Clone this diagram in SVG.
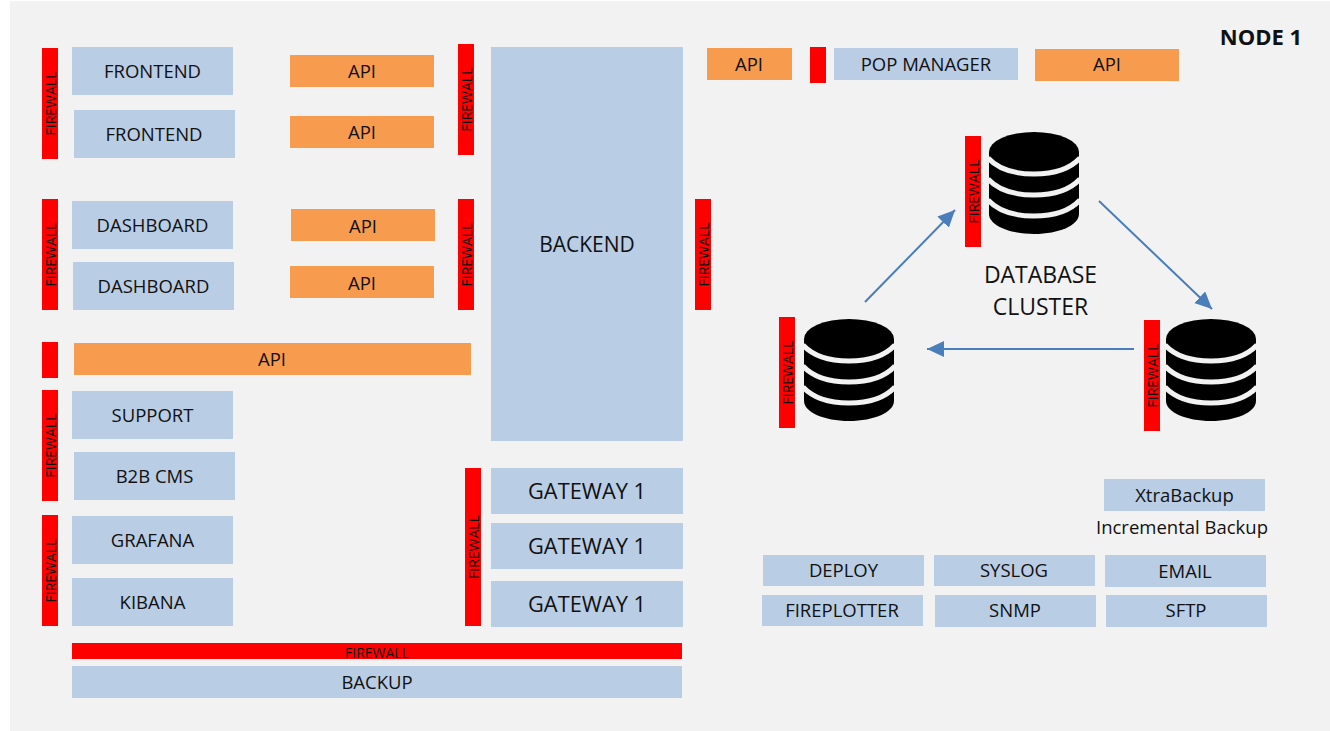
<svg xmlns="http://www.w3.org/2000/svg" width="1330" height="731" viewBox="0 0 1330 731">
<style>
text{font-family:"Open Sans","Noto Sans","Liberation Sans",sans-serif;fill:#111;text-anchor:middle}
.b{fill:#b9cde5}.o{fill:#f79646;fill-opacity:.95}.r{fill:#f00}
.t{font-size:18.5px}.g{font-size:21px}.w{font-size:21.8px}.f{font-size:14px}
.c{fill:none;stroke:#4a7ebb;stroke-width:2}
</style>
<defs>
<marker id="ah" markerUnits="userSpaceOnUse" markerWidth="18" markerHeight="18" refX="17" refY="8" orient="auto"><path d="M0,0L17,8L0,16Z" fill="#4a7ebb"/></marker>
<g id="db"><path d="M-45,20A45,20 0 0 1 45,20V82C45,93 25,102 0,102S-45,93 -45,82Z" fill="#000"/><path d="M-46,26C-35,38 -18,42 0,42S35,38 46,26M-46,47C-35,59 -18,63 0,63S35,59 46,47M-46,68C-35,80 -18,84 0,84S35,80 46,68" fill="none" stroke="#f2f2f2" stroke-width="5"/></g>
</defs>
<rect id="background" x="10" y="1" width="1320" height="730" fill="#f2f2f2"/>
<text x="1261" y="45" font-size="22" font-weight="700">NODE 1</text>
<g id="fw1"><rect class="r" x="42" y="48" width="16" height="111"/><text class="f" transform="translate(56,103.500) rotate(-90)">FIREWALL</text></g>
<g id="frontend1"><rect class="b" x="72" y="47" width="161" height="48"/><text class="t" x="152.500" y="78">FRONTEND</text></g>
<g id="frontend2"><rect class="b" x="74" y="110" width="161" height="48"/><text class="t" x="154" y="141">FRONTEND</text></g>
<g id="api1"><rect class="o" x="290" y="55" width="144" height="32"/><text class="t" x="362" y="78">API</text></g>
<g id="api2"><rect class="o" x="290" y="116" width="144" height="32"/><text class="t" x="362" y="139">API</text></g>
<g id="fw2"><rect class="r" x="458" y="44" width="16" height="111"/><text class="f" transform="translate(472,99.500) rotate(-90)">FIREWALL</text></g>
<g id="backend"><rect class="b" x="491" y="47" width="192" height="394"/><text class="g" x="587" y="252">BACKEND</text></g>
<g id="api3"><rect class="o" x="707" y="48" width="85" height="32"/><text class="t" x="749" y="71">API</text></g>
<g id="fw3"><rect class="r" x="810" y="47" width="16" height="36"/></g>
<g id="popmanager"><rect class="b" x="834" y="48" width="184" height="32"/><text class="t" x="926" y="71">POP MANAGER</text></g>
<g id="api4"><rect class="o" x="1035" y="49" width="144" height="32"/><text class="t" x="1107" y="71">API</text></g>
<g id="fw4"><rect class="r" x="42" y="199" width="16" height="111"/><text class="f" transform="translate(56,254.500) rotate(-90)">FIREWALL</text></g>
<g id="dashboard1"><rect class="b" x="72" y="201" width="161" height="48"/><text class="t" x="152.500" y="232">DASHBOARD</text></g>
<g id="dashboard2"><rect class="b" x="73" y="262" width="161" height="48"/><text class="t" x="153.500" y="293">DASHBOARD</text></g>
<g id="api5"><rect class="o" x="291" y="209" width="144" height="32"/><text class="t" x="363" y="233">API</text></g>
<g id="api6"><rect class="o" x="290" y="266" width="144" height="32"/><text class="t" x="362" y="290">API</text></g>
<g id="fw5"><rect class="r" x="458" y="199" width="16" height="111"/><text class="f" transform="translate(472,254.500) rotate(-90)">FIREWALL</text></g>
<g id="fw6"><rect class="r" x="695" y="199" width="16" height="111"/><text class="f" transform="translate(709,254.500) rotate(-90)">FIREWALL</text></g>
<g id="fw7"><rect class="r" x="42" y="342" width="16" height="36"/></g>
<g id="api7"><rect class="o" x="74" y="343" width="397" height="32"/><text class="t" x="272" y="366">API</text></g>
<g id="fw8"><rect class="r" x="42" y="390" width="16" height="111"/><text class="f" transform="translate(56,445.500) rotate(-90)">FIREWALL</text></g>
<g id="support"><rect class="b" x="72" y="391" width="161" height="48"/><text class="t" x="152.500" y="422">SUPPORT</text></g>
<g id="b2bcms"><rect class="b" x="74" y="452" width="161" height="48"/><text class="t" x="154.500" y="483">B2B CMS</text></g>
<g id="fw9"><rect class="r" x="42" y="515" width="16" height="111"/><text class="f" transform="translate(56,570.500) rotate(-90)">FIREWALL</text></g>
<g id="grafana"><rect class="b" x="72" y="516" width="161" height="48"/><text class="t" x="152.500" y="547">GRAFANA</text></g>
<g id="kibana"><rect class="b" x="72" y="578" width="161" height="48"/><text class="t" x="152.500" y="609">KIBANA</text></g>
<g id="fw10"><rect class="r" x="465" y="468" width="16" height="158"/><text class="f" transform="translate(479,547) rotate(-90)">FIREWALL</text></g>
<g id="gateway1"><rect class="b" x="491" y="468" width="192" height="46"/><text class="w" x="587" y="499">GATEWAY 1</text></g>
<g id="gateway2"><rect class="b" x="491" y="523" width="192" height="46"/><text class="w" x="587" y="554">GATEWAY 1</text></g>
<g id="gateway3"><rect class="b" x="491" y="581" width="192" height="46"/><text class="w" x="587" y="612">GATEWAY 1</text></g>
<g id="fw11"><rect class="r" x="72" y="643" width="610" height="16"/><text class="f" x="377" y="658">FIREWALL</text></g>
<g id="backup"><rect class="b" x="72" y="666" width="610" height="32"/><text class="t" x="377" y="689">BACKUP</text></g>
<g id="db1"><use href="#db" x="1034" y="132"/><rect class="r" x="965" y="136" width="16" height="111"/><text class="f" transform="translate(979,191.500) rotate(-90)">FIREWALL</text></g>
<g id="db2"><use href="#db" x="849" y="319"/><rect class="r" x="779" y="317" width="16" height="111"/><text class="f" transform="translate(793,372.500) rotate(-90)">FIREWALL</text></g>
<g id="db3"><use href="#db" x="1211" y="319"/><rect class="r" x="1144" y="320" width="16" height="111"/><text class="f" transform="translate(1158,375.500) rotate(-90)">FIREWALL</text></g>
<g id="cluster-label"><text x="1040.500" y="283" font-size="23">DATABASE</text><text x="1040.500" y="315" font-size="23">CLUSTER</text></g>
<g id="connectors">
<path class="c" d="M865,302L955,210" marker-end="url(#ah)"/>
<path class="c" d="M1099,201L1212,309" marker-end="url(#ah)"/>
<path class="c" d="M1134,349H927" marker-end="url(#ah)"/>
</g>
<g id="xtrabackup"><rect class="b" x="1104" y="479" width="161" height="32"/><text class="t" x="1184.500" y="502">XtraBackup</text></g>
<text class="t" x="1182" y="534">Incremental Backup</text>
<g id="deploy"><rect class="b" x="763" y="555" width="161" height="31"/><text class="t" x="843.500" y="577">DEPLOY</text></g>
<g id="syslog"><rect class="b" x="934" y="555" width="161" height="31"/><text class="t" x="1014" y="577">SYSLOG</text></g>
<g id="email"><rect class="b" x="1105" y="555" width="161" height="32"/><text class="t" x="1185" y="578">EMAIL</text></g>
<g id="fireplotter"><rect class="b" x="762" y="595" width="161" height="31"/><text class="t" x="842" y="617">FIREPLOTTER</text></g>
<g id="snmp"><rect class="b" x="935" y="595" width="161" height="32"/><text class="t" x="1015" y="617">SNMP</text></g>
<g id="sftp"><rect class="b" x="1106" y="595" width="161" height="32"/><text class="t" x="1186" y="617">SFTP</text></g>
</svg>
